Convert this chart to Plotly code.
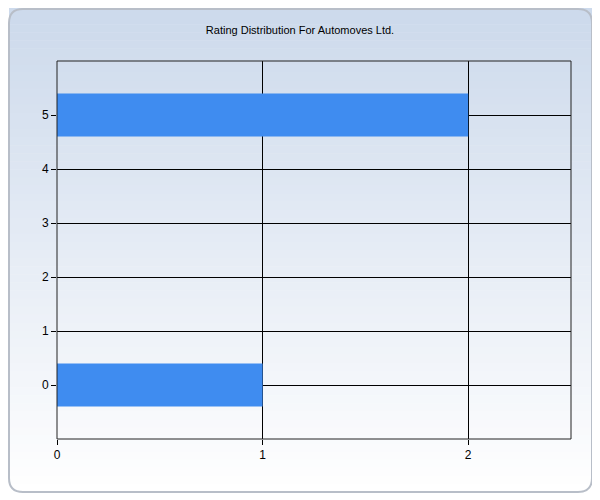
import plotly.graph_objects as go

categories = [0, 5]
values = [1, 2]
x_ticks = [0, 1, 2]
y_ticks = [0, 1, 2, 3, 4, 5]

W, H = 600, 500
OFF = 8  # page body margin
L, R, T, B = 57 - OFF, W - (571 - OFF), 61 - OFF, H - (439 - OFF)
pw, ph = W - L - R, H - T - B

def px(x): return (x - OFF - L) / pw
def py(y): return (H - B - (y - OFF)) / ph

shapes = []
n = 60
top, bot = 8, 492
c0 = (205, 218, 236); c1 = (255, 255, 255)
for i in range(n):
    y0 = top + (bot - top) * i / n
    y1 = top + (bot - top) * (i + 1) / n + 0.5
    t = i / (n - 1)
    c = tuple(int(c0[k] + (c1[k] - c0[k]) * t) for k in range(3))
    shapes.append(dict(type="rect", xref="paper", yref="paper", layer="below",
                       x0=px(9), x1=px(592), y0=py(y1), y1=py(y0),
                       fillcolor="rgb(%d,%d,%d)" % c, line_width=0))
r = 14
x0, x1, y0, y1 = 9, 592, 9, 492
path = (f"M {px(x0+r)},{py(y0)} L {px(x1-r)},{py(y0)} Q {px(x1)},{py(y0)} {px(x1)},{py(y0+r)} "
        f"L {px(x1)},{py(y1-r)} Q {px(x1)},{py(y1)} {px(x1-r)},{py(y1)} "
        f"L {px(x0+r)},{py(y1)} Q {px(x0)},{py(y1)} {px(x0)},{py(y1-r)} "
        f"L {px(x0)},{py(y0+r)} Q {px(x0)},{py(y0)} {px(x0+r)},{py(y0)} Z")
shapes.append(dict(type="path", xref="paper", yref="paper", path=path, layer="above",
                   line=dict(color="#b8bec8", width=2)))
shapes.append(dict(type="rect", xref="paper", yref="paper", layer="above",
                   x0=0, x1=1, y0=0, y1=1, line=dict(color="#222", width=1)))

fig = go.Figure(go.Bar(x=values, y=categories, orientation="h", width=0.8,
                       marker=dict(color="#3f8cf0", line_width=0)))
fig.update_layout(
    width=W, height=H, margin=dict(l=L, r=R, t=T, b=B),
    paper_bgcolor="white", plot_bgcolor="rgba(0,0,0,0)",
    title=dict(text="Rating Distribution For Automoves Ltd.", x=px(300), xref="paper",
               y=1 - (30 - OFF) / H, xanchor="center", yanchor="middle",
               font=dict(family="Liberation Sans, Arial", size=11, color="black")),
    font=dict(family="Liberation Sans, Arial", size=12, color="black"),
    shapes=shapes, showlegend=False,
    xaxis=dict(range=[0, 2.5], tickvals=x_ticks, showgrid=True, gridcolor="black", gridwidth=1,
               zeroline=False, ticks="outside", ticklen=5, tickcolor="black", showline=False),
    yaxis=dict(range=[-1, 6], tickvals=y_ticks, showgrid=True, gridcolor="black", gridwidth=1,
               zeroline=False, ticks="outside", ticklen=5, tickcolor="black", showline=False),
)
fig.write_html("out.html")
